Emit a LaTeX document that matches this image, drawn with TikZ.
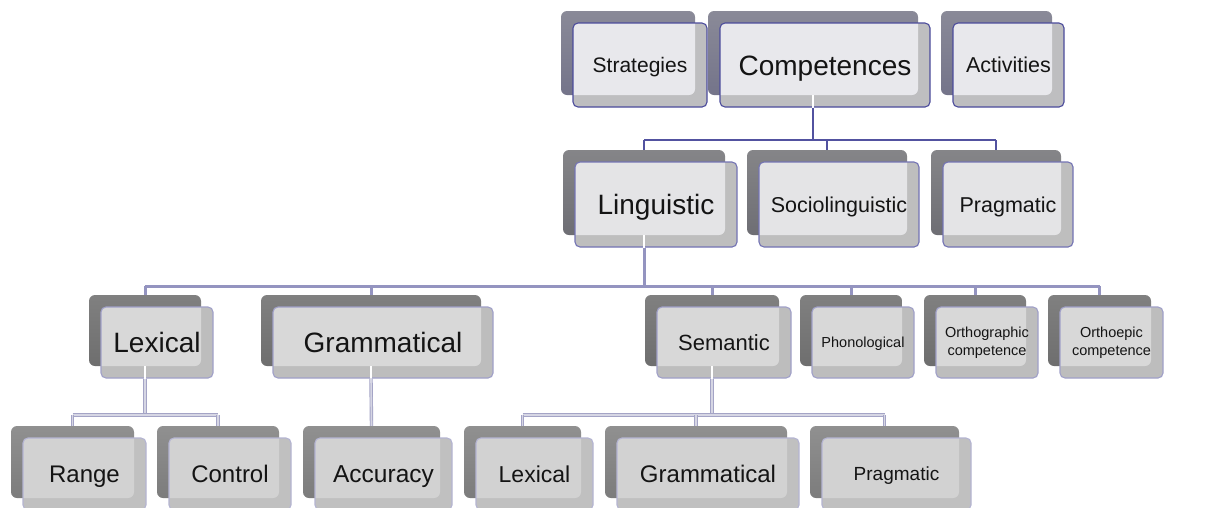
\documentclass[tikz,border=0pt]{standalone}
\usepackage{fontspec}
\setmainfont{Liberation Sans}
\usetikzlibrary{calc}
\definecolor{rAback}{HTML}{8A8A98}
\definecolor{rAbackb}{HTML}{74748A}
\definecolor{rAlight}{HTML}{E8E8EC}
\definecolor{rAstrip}{HTML}{BEBEC0}
\definecolor{rAbord}{HTML}{4C4C9C}
\definecolor{rBback}{HTML}{858588}
\definecolor{rBbackb}{HTML}{6E6E74}
\definecolor{rBlight}{HTML}{E4E4E6}
\definecolor{rBstrip}{HTML}{BEBEBE}
\definecolor{rBbord}{HTML}{7474B4}
\definecolor{rCback}{HTML}{808080}
\definecolor{rCbackb}{HTML}{6E6E6E}
\definecolor{rClight}{HTML}{D8D8D8}
\definecolor{rCstrip}{HTML}{BDBDBD}
\definecolor{rCbord}{HTML}{A0A0C8}
\definecolor{rDback}{HTML}{909090}
\definecolor{rDbackb}{HTML}{7C7C7C}
\definecolor{rDlight}{HTML}{D2D2D2}
\definecolor{rDstrip}{HTML}{C0C0C0}
\definecolor{rDbord}{HTML}{B4B4D2}
\definecolor{cA}{HTML}{5252A0}
\definecolor{cB}{HTML}{9494C0}
\definecolor{cC}{HTML}{A4A4C6}
\definecolor{cCin}{HTML}{D6D6E4}
\definecolor{txt}{HTML}{141414}
\newcommand{\mkbox}[9]{%
  \node[backbox, top color=r#6back, bottom color=r#6backb,
        minimum width={#4pt-#2pt}, minimum height={#5pt-#3pt}]
        (#1B) at ({(#2+#4)/2-12},{(#3+#5)/2-12}) {};
  \fill[r#6strip, rounded corners=5pt] (#2,#3) rectangle (#4,#5);
  \begin{scope}
    \clip[rounded corners=5pt] (#2,#3) rectangle (#4,#5);
    \fill[r#6light, rounded corners=6pt] (#2-12,#3-12) rectangle (#4-12,#5-12);
  \end{scope}
  \node[frontbox, draw=r#6bord, font={\fontsize{#7}{17.5}\selectfont},
        text height={0.72*#7pt}, text depth=0pt, #9,
        minimum width={#4pt-#2pt}, minimum height={#5pt-#3pt}]
        (#1) at ({(#2+#4)/2},{(#3+#5)/2}) {#8};
}
\begin{document}
\begin{tikzpicture}[x=1pt,y=-1pt,
  backbox/.style={shape=rectangle, rounded corners=6pt, inner sep=0pt, draw=none},
  frontbox/.style={shape=rectangle, rounded corners=5pt, inner sep=0pt, line width=1.1pt,
        text=txt, align=center},
  multi/.style={text height=, text depth=},
  cAline/.style={draw=cA, line width=2.4pt},
  cBline/.style={draw=cB, line width=3pt},
  cCline/.style={draw=cC, line width=0.9pt, double=cCin, double distance=1.6pt},
  inner/.style={draw=white, line width=2pt}]
\useasboundingbox[fill=white] (0,0) rectangle (1213,507);
% row 1
\mkbox{strat}{573}{23}{707}{107}{A}{21}{Strategies}{}
\mkbox{comp}{720}{23}{930}{107}{A}{28}{Competences}{}
\mkbox{act}{953}{23}{1064}{107}{A}{21.5}{Activities}{}
% row 2
\mkbox{ling}{575}{162}{737}{247}{B}{28}{Linguistic}{}
\mkbox{socio}{759}{162}{919}{247}{B}{21.5}{Sociolinguistic}{}
\mkbox{prag}{943}{162}{1073}{247}{B}{21.5}{Pragmatic}{}
% row 3
\mkbox{lex}{101}{307}{213}{378}{C}{28}{Lexical}{}
\mkbox{gram}{273}{307}{493}{378}{C}{28}{Grammatical}{}
\mkbox{sem}{657}{307}{791}{378}{C}{22}{Semantic}{}
\mkbox{phon}{812}{307}{914}{378}{C}{14.5}{Phonological}{}
\mkbox{orth}{936}{307}{1038}{378}{C}{14.5}{Orthographic\\competence}{multi}
\mkbox{orthoe}{1060}{307}{1163}{378}{C}{14.5}{Orthoepic\\competence}{multi}
% row 4
\mkbox{range}{23}{438}{146}{510}{D}{24}{Range}{}
\mkbox{control}{169}{438}{291}{510}{D}{24}{Control}{}
\mkbox{acc}{315}{438}{452}{510}{D}{24.5}{Accuracy}{}
\mkbox{lexb}{476}{438}{593}{510}{D}{23}{Lexical}{}
\mkbox{gramb}{617}{438}{799}{510}{D}{24}{Grammatical}{}
\mkbox{pragb}{822}{438}{971}{510}{D}{19}{Pragmatic}{}
% bus levels
\coordinate (busA) at (0,140);
\coordinate (busB) at (0,286);
\coordinate (busC) at (0,415);
% competences -> row 2
\draw[inner] (compB.south) -- (compB.south |- comp.south);
\draw[cAline] (compB.south |- comp.south) -- (compB.south |- busA);
\draw[cAline] (lingB.north |- busA) -- (pragB.north |- busA);
\foreach \c in {ling,socio,prag}{\draw[cAline] (\c B.north |- busA) -- (\c B.north);}
% linguistic -> row 3
\draw[inner] (lingB.south) -- (lingB.south |- ling.south);
\draw[cBline] (lingB.south |- ling.south) -- (lingB.south |- busB);
\draw[cBline] (lexB.north |- busB) -- (orthoeB.north |- busB);
\foreach \c in {lex,gram,sem,phon,orth,orthoe}{\draw[cBline] (\c B.north |- busB) -- (\c B.north);}
% lexical -> range, control
\draw[inner] (lexB.south) -- (lexB.south |- lex.south);
\draw[cCline] (lexB.south |- lex.south) -- (lexB.south |- busC);
\draw[cCline] (rangeB.north |- busC) -- (controlB.north |- busC);
\foreach \c in {range,control}{\draw[cCline] (\c B.north |- busC) -- (\c B.north);}
% grammatical -> accuracy
\draw[inner] (gramB.south) -- (gramB.south |- gram.south);
\draw[cCline] (gramB.south |- gram.south) -- (accB.north);
% semantic -> lexical, grammatical, pragmatic
\draw[inner] (semB.south) -- (semB.south |- sem.south);
\draw[cCline] (semB.south |- sem.south) -- (semB.south |- busC);
\draw[cCline] (lexbB.north |- busC) -- (pragbB.north |- busC);
\foreach \c in {lexb,gramb,pragb}{\draw[cCline] (\c B.north |- busC) -- (\c B.north);}
\end{tikzpicture}
\end{document}
